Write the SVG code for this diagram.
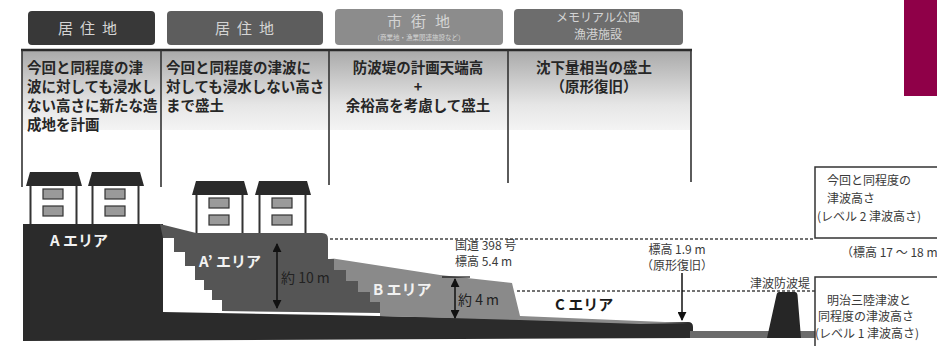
<svg xmlns="http://www.w3.org/2000/svg" width="937" height="346" viewBox="0 0 937 346">
  <defs>
    <linearGradient id="colFade" gradientUnits="userSpaceOnUse" x1="0" y1="50" x2="0" y2="150">
      <stop offset="0" stop-color="#a9a9a9"/>
      <stop offset="0.55" stop-color="#e6e6e6"/>
      <stop offset="1" stop-color="#ffffff"/>
    </linearGradient>
    <marker id="head" viewBox="0 0 10 10" refX="9" refY="5" markerWidth="9" markerHeight="9" markerUnits="userSpaceOnUse" orient="auto-start-reverse">
      <path d="M0,0 L10,5 L0,10 Z" fill="#111"/>
    </marker>
    <!-- two-storey house: roof, side walls, two windows -->
    <g id="house">
      <path d="M4,0 H52 L56,14 H0 Z" fill="#2a2a2a"/>
      <path d="M4.5,14 V52 M50.5,14 V52" stroke="#333" stroke-width="2" fill="none"/>
      <rect x="17" y="17" width="20" height="10" fill="#9a9a9a" stroke="#333" stroke-width="1.2"/>
      <rect x="17" y="34" width="20" height="10" fill="#9a9a9a" stroke="#333" stroke-width="1.2"/>
    </g>
  </defs>
  <style>
    .hd { font-family: "Noto Sans CJK JP", "Noto Sans", sans-serif; fill: #d4d4d4; text-anchor: middle; }
    .col { font-family: "Noto Sans CJK JP", "Noto Sans", sans-serif; font-size: 14.5px; font-weight: 700; fill: #262626; }
    .lbl { font-family: "Noto Sans CJK JP", "Noto Sans", sans-serif; font-size: 12px; fill: #3a3a3a; }
    .area { font-family: "Noto Sans CJK JP", "Noto Sans", sans-serif; font-size: 15px; font-weight: 700; }
    .dash { stroke: #444; stroke-width: 1.6; stroke-dasharray: 3 2; fill: none; }
    .frame { stroke: #333; stroke-width: 1.6; fill: none; }
    .dim { stroke: #111; stroke-width: 1.5; fill: none; }
  </style>

  <rect width="937" height="346" fill="#ffffff"/>

  <!-- accent block, top right -->
  <rect x="904" y="0" width="33" height="96" fill="#8f0048"/>

  <!-- column headers -->
  <g id="hdr-residential-a">
    <rect x="28" y="11" width="127" height="34" rx="4" fill="#383838"/>
    <text class="hd" x="91" y="34" font-size="15" letter-spacing="7">居住地</text>
  </g>
  <g id="hdr-residential-b">
    <rect x="167" y="11" width="156" height="34" rx="4" fill="#5d5d5d"/>
    <text class="hd" x="248" y="34" font-size="15" letter-spacing="7">居住地</text>
  </g>
  <g id="hdr-town">
    <rect x="335" y="9" width="168" height="36" rx="4" fill="#8c8c8c"/>
    <text class="hd" x="423" y="27" font-size="15" letter-spacing="9" fill="#e4e4e4">市街地</text>
    <text class="hd" x="419" y="40" font-size="6.5" fill="#e0e0e0">（商業地・漁業関連施設など）</text>
  </g>
  <g id="hdr-park">
    <rect x="514" y="9" width="169" height="36" rx="4" fill="#6d6d6d"/>
    <text class="hd" x="598" y="22" font-size="12">メモリアル公園</text>
    <text class="hd" x="598" y="39" font-size="12">漁港施設</text>
  </g>

  <!-- policy columns -->
  <g id="columns">
    <rect x="22" y="50" width="669" height="140" fill="url(#colFade)"/>
    <rect x="22" y="130" width="669" height="60" fill="#ffffff"/>
    <line x1="21" y1="50" x2="692" y2="50" stroke="#2a2a2a" stroke-width="2.4"/>
    <line class="frame" x1="22" y1="50" x2="22" y2="187"/>
    <line class="frame" x1="161" y1="50" x2="161" y2="187"/>
    <line class="frame" x1="329" y1="50" x2="329" y2="185"/>
    <line class="frame" x1="508" y1="50" x2="508" y2="183"/>
    <line class="frame" x1="691" y1="50" x2="691" y2="182"/>
  </g>
  <g id="col-a">
    <text class="col" x="27" y="73">今回と同程度の津</text>
    <text class="col" x="27" y="92">波に対しても浸水し</text>
    <text class="col" x="27" y="111">ない高さに新たな造</text>
    <text class="col" x="27" y="130">成地を計画</text>
  </g>
  <g id="col-a2">
    <text class="col" x="166" y="73" font-size="14.3">今回と同程度の津波に</text>
    <text class="col" x="166" y="92" font-size="13.8">対しても浸水しない高さ</text>
    <text class="col" x="166" y="111" font-size="14.3">まで盛土</text>
  </g>
  <g id="col-b">
    <text class="col" x="418" y="73" text-anchor="middle">防波堤の計画天端高</text>
    <text class="col" x="418" y="92" text-anchor="middle">+</text>
    <text class="col" x="418" y="111" text-anchor="middle">余裕高を考慮して盛土</text>
  </g>
  <g id="col-c">
    <text class="col" x="594" y="73" text-anchor="middle">沈下量相当の盛土</text>
    <text class="col" x="594" y="92" text-anchor="middle">（原形復旧）</text>
  </g>

  <!-- ground section -->
  <g id="ground">
    <!-- base layer and A area -->
    <path d="M23,224 H163 V312 L330,315 L520,319 L640,322 H688 Q693,322 693,327 V338 L23,341 Z" fill="#2b2b2b"/>
    <!-- A' area with stepped slope -->
    <path d="M160,224 L196,233 H322 Q328,233 328,239 V259 L334,259 V270 L346,270 V281 L358,281 V292 L370,292 V302 L380,302 V313 L222,311 V300 L212,300 V290 L204,290 V280 L195,280 V266 L185,266 V252 L174,252 V238 L163,238 Z" fill="#555555"/>
    <!-- B area -->
    <path d="M330,258 L440,275 L512,283 L520,316 L640,321 L690,323 L640,324 L520,320 L380,316 V302 L370,302 V292 L358,292 V281 L346,281 V270 L334,270 V259 Z" fill="#8a8a8a"/>
    <!-- low strip towards sea -->
    <rect x="690" y="331" width="125" height="7" fill="#6b6b6b"/>
  </g>

  <!-- houses -->
  <g id="house-1"><use href="#house" transform="translate(26,172)"/></g>
  <g id="house-2"><use href="#house" transform="translate(88,172)"/></g>
  <g id="house-3"><use href="#house" transform="translate(192,181)"/></g>
  <g id="house-4"><use href="#house" transform="translate(255,181)"/></g>

  <!-- breakwater -->
  <g id="breakwater">
    <path d="M779,292 H795 Q797,292 797.5,295 L801,338 H767 L776.5,295 Q777,292 779,292 Z" fill="#262626"/>
    <text class="lbl" x="750" y="288" font-size="11.5">津波防波堤</text>
  </g>

  <!-- reference levels and dimensions -->
  <g id="connectors">
    <line class="dash" x1="330" y1="239" x2="815" y2="239"/>
    <line class="dash" x1="517" y1="291" x2="815" y2="291"/>
    <line class="dim" x1="277" y1="244" x2="277" y2="308" marker-start="url(#head)" marker-end="url(#head)"/>
    <line x1="442" y1="277" x2="470" y2="277" stroke="#111" stroke-width="1.2"/>
    <line class="dim" x1="455" y1="279" x2="455" y2="318" marker-start="url(#head)" marker-end="url(#head)"/>
    <line class="dim" x1="682" y1="273" x2="682" y2="320" marker-end="url(#head)"/>
  </g>

  <!-- area labels -->
  <g id="labels">
    <text class="area" x="50" y="246" fill="#f2f2f2">A エリア</text>
    <text class="area" x="199" y="267" fill="#f2f2f2">A’ エリア</text>
    <text x="281" y="283" font-family="'Noto Sans CJK JP', 'Noto Sans', sans-serif" font-size="14" fill="#222">約 10 m</text>
    <text class="area" x="373" y="295" font-size="14" fill="#f2f2f2" font-weight="400">B エリア</text>
    <text x="458" y="305" font-family="'Noto Sans CJK JP', 'Noto Sans', sans-serif" font-size="14" fill="#222">約 4 m</text>
    <text class="area" x="555" y="310" fill="#1a1a1a">C エリア</text>
    <text class="lbl" x="455" y="250" font-size="11">国道 398 号</text>
    <text class="lbl" x="455" y="266" font-size="11">標高 5.4 m</text>
    <text class="lbl" x="677" y="254" font-size="11" text-anchor="middle">標高 1.9 m</text>
    <text class="lbl" x="677" y="270" font-size="11" text-anchor="middle">（原形復旧）</text>
    <text class="lbl" x="841" y="257" font-size="11">（標高 17 ～ 18 m</text>
  </g>

  <!-- tsunami height notes -->
  <g id="note-level2">
    <rect x="815" y="167" width="130" height="71" fill="#ffffff" stroke="#333" stroke-width="1.5"/>
    <text class="lbl" x="827" y="185">今回と同程度の</text>
    <text class="lbl" x="827" y="203">津波高さ</text>
    <text class="lbl" x="817" y="221">(レベル 2 津波高さ)</text>
  </g>
  <g id="note-level1">
    <rect x="815" y="277" width="130" height="80" fill="#ffffff" stroke="#333" stroke-width="1.5"/>
    <text class="lbl" x="827" y="305">明治三陸津波と</text>
    <text class="lbl" x="818" y="321">同程度の津波高さ</text>
    <text class="lbl" x="815" y="338">(レベル 1 津波高さ)</text>
  </g>
</svg>
